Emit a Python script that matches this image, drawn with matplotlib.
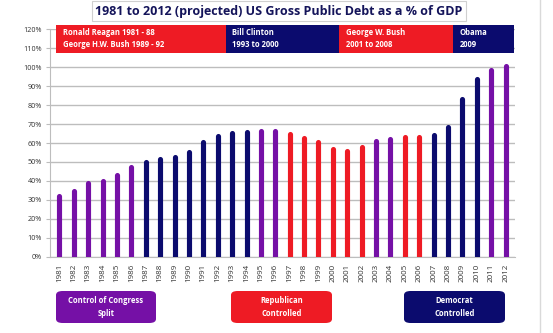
import numpy as np
import matplotlib.pyplot as plt
from matplotlib.patches import Rectangle, FancyBboxPatch
from matplotlib.lines import Line2D

plt.rcParams['font.family'] = ['Open Sans', 'DejaVu Sans']

years = list(range(1981, 2013))
debt = [32, 34.5, 39, 40, 43, 47.5, 50, 51.5, 52.5, 55.5, 60.5, 63.5,
        65.5, 66, 66.5, 66.5, 65, 62.5, 60.5, 57, 56, 58, 61, 62,
        63, 63, 64, 68.5, 83, 94, 98.5, 100.5]
# congress control per year: S=split, R=republican, D=democrat
control = ['S'] * 6 + ['D'] * 8 + ['S'] * 2 + ['R'] * 6 + ['S'] * 2 + ['R'] * 2 + ['D'] * 4 + ['S'] * 2

presidents = ["Ronald Reagan 1981 - 88\nGeorge H.W. Bush 1989 - 92",
              "Bill Clinton\n1993 to 2000",
              "George W. Bush\n2001 to 2008",
              "Obama\n2009"]
pres_party = ['R', 'D', 'R', 'D']
pres_edges = [-0.2, 11.55, 19.45, 27.35, 31.55]

legend_labels = ["Control of Congress\nSplit", "Republican\nControlled", "Democrat\nControlled"]
legend_keys = ['S', 'R', 'D']

colors = {'S': '#7510a6', 'R': '#ee1b24', 'D': '#0b0b6e'}

W, H = 553, 333
fig = plt.figure(figsize=(W / 100, H / 100), dpi=100)
fig.patch.set_facecolor('white')

def px(x, y):
    return x / W, 1 - y / H

left, right = px(50, 0)[0], px(515, 0)[0]
bottom, top = px(0, 256.7)[1], px(0, 29.3)[1]
ax = fig.add_axes([left, bottom, right - left, top - bottom])

x = np.arange(len(years))
ax.vlines(x, 0, debt, colors=[colors[c] for c in control], linewidth=3.7,
          capstyle='round', zorder=3)

ax.set_xlim(-0.65, len(years) - 0.35)
ax.set_ylim(0, 120)
ax.set_yticks(range(0, 121, 10))
ax.set_yticklabels([f'{v}%' for v in range(0, 121, 10)], fontsize=5.2, color='#333333')
ax.yaxis.grid(True, color='#bdbdbd', linewidth=1)
ax.set_axisbelow(True)
ax.set_xticks(x)
ax.set_xticklabels([str(y) for y in years], rotation=90, fontsize=5.8, color='#333333')
ax.tick_params(axis='x', length=0, pad=5)
ax.tick_params(axis='y', length=3, color='#bdbdbd', pad=3)
for s in ['top', 'right']:
    ax.spines[s].set_visible(False)
ax.spines['left'].set_color('#bdbdbd')
ax.spines['bottom'].set_color('#bdbdbd')

# president header boxes
for i, name in enumerate(presidents):
    x0, x1 = pres_edges[i], pres_edges[i + 1]
    ax.add_patch(Rectangle((x0, 107.5), x1 - x0, 14.8, facecolor=colors[pres_party[i]],
                           edgecolor='none', clip_on=False, zorder=4))
    ax.text(x0 + 0.45, 115, name, color='white', fontsize=5.5, fontweight='bold',
            va='center', ha='left', linespacing=1.45, zorder=5, clip_on=False)

# title
fig.text(px(279, 0)[0], px(0, 11)[1], "1981 to 2012 (projected) US Gross Public Debt as a % of GDP",
         ha='center', va='center', fontsize=9.0, fontweight='bold', color='#14145a',
         bbox=dict(boxstyle='square,pad=0.25', facecolor='white', edgecolor='#d0d0d0', linewidth=0.8))

# legend boxes below
boxes = [(56, 156), (231, 332), (404, 505)]
for (bx0, bx1), lab, key in zip(boxes, legend_labels, legend_keys):
    fx0, fy0 = px(bx0, 323)
    fx1, fy1 = px(bx1, 291)
    fig.add_artist(FancyBboxPatch((fx0, fy0), fx1 - fx0, fy1 - fy0,
                                  boxstyle='round,pad=0,rounding_size=0.012',
                                  transform=fig.transFigure, facecolor=colors[key],
                                  edgecolor='none'))
    fig.text((fx0 + fx1) / 2, (fy0 + fy1) / 2, lab, ha='center', va='center', color='white',
             fontsize=5.5, fontweight='bold', linespacing=1.5)

# right border line
fig.add_artist(Line2D([540 / W, 540 / W], [0, 1], transform=fig.transFigure,
                      color='#d9d9d9', linewidth=1))

fig.savefig('out.png', dpi=100)
